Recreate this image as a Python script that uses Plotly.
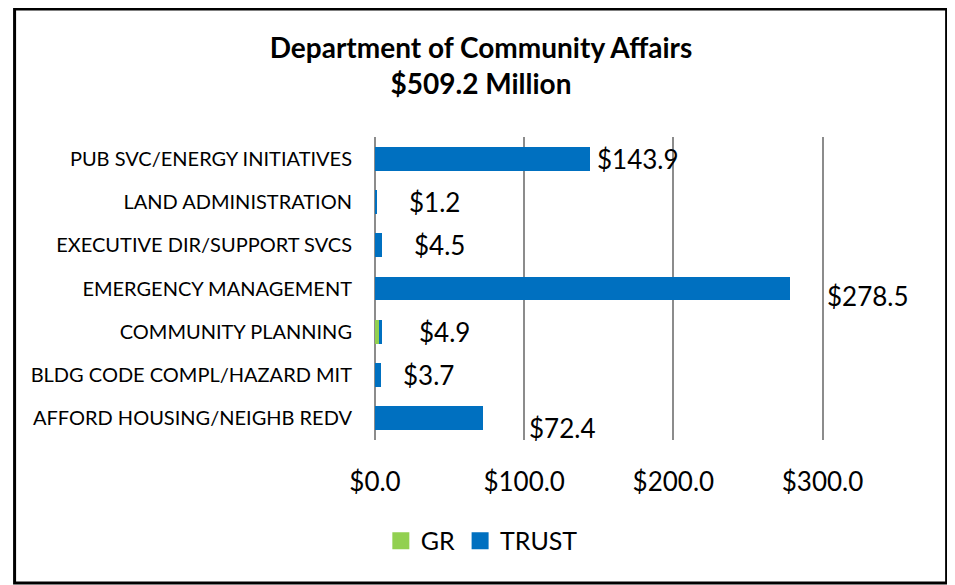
import plotly.graph_objects as go

# data (millions of dollars)
programs = ["PUB SVC/ENERGY INITIATIVES", "LAND ADMINISTRATION", "EXECUTIVE DIR/SUPPORT SVCS",
            "EMERGENCY MANAGEMENT", "COMMUNITY PLANNING", "BLDG CODE COMPL/HAZARD MIT",
            "AFFORD HOUSING/NEIGHB REDV"]
gr = [0.0, 0.0, 0.0, 0.0, 3.0, 0.0, 0.0]
trust = [143.9, 1.2, 4.5, 278.5, 1.9, 3.7, 72.4]
totals = [143.9, 1.2, 4.5, 278.5, 4.9, 3.7, 72.4]
tick_vals = [0, 100, 200, 300]
tick_text = ["$0.0", "$100.0", "$200.0", "$300.0"]

# label nudges in px (the source chart places them a bit loosely)
lbl_dx = [5, 30, 30, 35, 35, 20, 44]
lbl_dy = [0, 0, 0, -7, 0, 0, -10]

FONT = "Lato"
GREEN, BLUE = "#92D050", "#0070C0"

fig = go.Figure()
fig.add_trace(go.Bar(y=programs, x=gr, name="GR", orientation="h", showlegend=False,
                     marker=dict(color=GREEN, line=dict(width=0))))
fig.add_trace(go.Bar(y=programs, x=trust, name="TRUST", orientation="h", showlegend=False,
                     marker=dict(color=BLUE, line=dict(width=0))))

# legend-only entries with bigger swatches
for name, col in [("GR", GREEN), ("TRUST", BLUE)]:
    fig.add_trace(go.Bar(y=[None], x=[None], name=name, orientation="h",
                         marker=dict(color=col, line=dict(color=col, width=5))))

for p, t, dx, dy in zip(programs, totals, lbl_dx, lbl_dy):
    fig.add_annotation(x=t, y=p, text="$%.1f" % t, showarrow=False,
                       xanchor="left", yanchor="middle", xshift=dx, yshift=dy,
                       font=dict(family=FONT, size=26, color="black"))

# outer frame
fig.add_shape(type="rect", xref="paper", yref="paper",
              x0=-0.8027, x1=1.2731, y0=-0.472, y1=1.4224,
              line=dict(color="black", width=3), layer="above")

fig.update_layout(
    barmode="stack",
    bargap=0.45,
    width=955, height=585,
    margin=dict(l=367, r=139, t=129, b=153),
    paper_bgcolor="white", plot_bgcolor="white",
    font=dict(family=FONT, color="black"),
    title=dict(text="<b>Department of Community Affairs<br>$509.2 Million</b>",
               x=0.4953, xanchor="center", y=0.915, yanchor="middle",
               font=dict(family=FONT, size=28, color="black")),
    legend=dict(orientation="h", x=0.013, xanchor="left", y=-0.333, yanchor="middle",
                font=dict(family=FONT, size=25), itemwidth=30, traceorder="normal"),
    xaxis=dict(range=[0, 301], tickvals=tick_vals, ticktext=tick_text,
               showgrid=True, gridcolor="#8c8c8c", gridwidth=2,
               zeroline=True, zerolinecolor="#8c8c8c", zerolinewidth=2,
               showline=False, ticks="", ticklabelstandoff=24,
               tickfont=dict(family=FONT, size=26)),
    yaxis=dict(autorange="reversed", showgrid=False, showline=False, ticks="",
               ticklabelstandoff=22, tickfont=dict(family=FONT, size=20)),
)

fig.write_html("out.html")
